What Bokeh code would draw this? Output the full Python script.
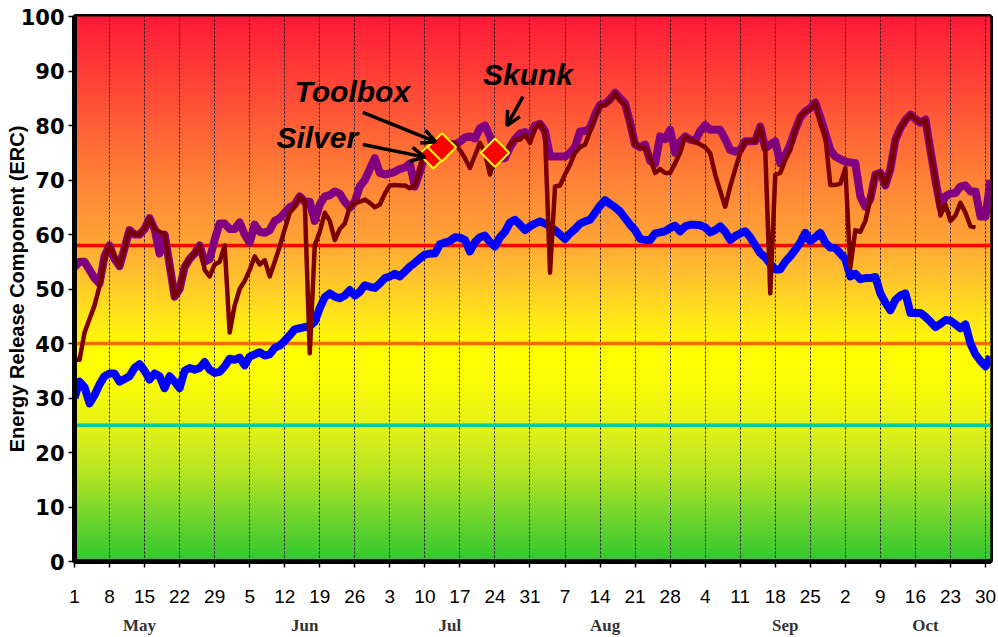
import math
from bokeh.plotting import figure
from bokeh.models import FixedTicker, LinearAxis, Span, Label, Arrow, OpenHead, Range1d
from bokeh.embed import file_html
from bokeh.resources import INLINE

# ---------------- data ----------------
tick_days = list(range(0, 183, 7))
tick_labels = ["1", "8", "15", "22", "29", "5", "12", "19", "26", "3", "10", "17", "24", "31",
               "7", "14", "21", "28", "4", "11", "18", "25", "2", "9", "16", "23", "30"]
months = ["May", "Jun", "Jul", "Aug", "Sep", "Oct"]
month_pos = [13, 46, 75, 106, 142, 170]

# purple series (May 1 .. Oct 31)
purple = [
    54, 55, 55, 53.5, 52, 51, 56, 58, 55.5, 54.2,
    57.5, 60.8, 60, 60, 61, 63, 61, 56.5, 60, 54.5,
    48.6, 50, 54, 55.5, 56.5, 58, 55, 55.5, 59, 62,
    62, 61, 61, 62.2, 60, 58.5, 61.8, 60.5, 60.3, 60.8,
    62.5, 63, 64, 65, 65.5, 67, 66, 66, 62.5, 65.5,
    67, 67.2, 67.9, 67.5, 66, 64.9, 66, 68.8, 70, 72,
    74, 71.3, 71, 71.2, 71.5, 72, 72.3, 73, 68.8, 71.5,
    74.5, 75.5, 76, 76, 76.5, 76.5, 76.5, 77, 77.8, 78,
    77.6, 79.5, 80, 78, 75, 74, 74, 76, 77.5, 78.5,
    78.8, 78, 80, 80.3, 79, 74.3, 74.3, 74.3, 74.3, 75,
    76, 78.9, 79, 79.5, 82, 83.8, 84, 84.8, 86, 85,
    84, 80.5, 76.5, 76, 76.5, 73.5, 73, 78, 77.5, 79.2,
    75, 77, 78, 77.4, 77.2, 79, 80.1, 79.2, 79.2, 79.2,
    77.5, 75.5, 75.2, 75.5, 77.1, 77.1, 77.1, 79.8, 75.8, 76.5,
    77.1, 73.1, 74.5, 76.5, 79.2, 81.5, 82.6, 83.2, 84.2, 81.5,
    78.6, 75.5, 74.3, 73.8, 73.4, 73.2, 73.1, 67, 65.1, 66.5,
    71, 71.3, 69, 72, 77.4, 79.5, 81, 82, 81.2, 80.5,
    81.1, 75.5, 70, 65, 67, 67.5, 67.6, 68.8, 69, 67.9,
    67.9, 63.3, 63.3, 70,
]

# maroon series (May 1 .. Oct 28)
maroon = [
    37, 37, 42, 44.5, 47, 50.5, 55.5, 58, 56, 54.2,
    57.5, 60.8, 60, 60, 61, 63, 61, 60.5, 60, 54.5,
    48.6, 50, 54, 55.5, 56.5, 58, 53.5, 52.3, 54.5, 55,
    58, 42, 47, 50, 51.5, 53.5, 56, 54.5, 55.3, 52.3,
    55, 57.8, 61, 64, 65.1, 67, 66, 38.2, 58, 60.5,
    64, 62.5, 59, 61, 62, 65.1, 65.8, 66, 66.4, 65.8,
    65, 65.5, 67.5, 69, 69.1, 69, 69, 68.5, 69, 72,
    75.5, 76.5, 75.5, 76.5, 77, 77, 76.8, 75.5, 74, 72.2,
    74.5, 76.8, 75, 71, 74.3, 74.3, 74.5, 76.5, 77.4, 77.4,
    78.3, 76.8, 79.5, 80.5, 78.5, 53, 68.8, 69, 71, 72.8,
    75, 76, 76.5, 78.9, 81.5, 83.5, 83.8, 84.5, 86, 84.5,
    83.8, 80, 76.5, 76, 75.8, 74, 71.3, 72, 71.3, 71.3,
    73.1, 75, 78, 77.4, 77, 76.5, 76, 74.9, 71, 68,
    65.1, 68.8, 72, 75, 77, 77.1, 77.1, 79.8, 75.5, 49.2,
    71, 71.3, 73.7, 75.5, 79, 81.7, 82.6, 82.9, 84.2, 80.5,
    78, 69.1, 69.1, 69.3, 72.2, 54, 60.8, 60.5, 62.5, 66.4,
    71, 71.3, 69, 72, 77.4, 79.5, 81, 82, 81.2, 80.5,
    81.1, 75, 70, 63.5, 65.5, 62.5, 63.5, 65.8, 64, 61.5,
    61.3,
]

# blue series (May 1 .. Oct 31)
blue = [
    30, 33, 32, 29, 30.5, 32.5, 34, 34.5, 34.5, 33,
    33.5, 34, 35.5, 36.2, 35, 33.4, 34.5, 34, 31.8, 34,
    33, 31.8, 35, 35.5, 35.2, 35.5, 36.6, 35.2, 34.6, 34.8,
    35.8, 37.2, 37, 37.4, 36, 37.6, 38, 38.4, 37.8, 38,
    39.2, 39.6, 40.5, 41.5, 42.6, 42.8, 43, 43.2, 44, 46.5,
    48.5, 49.2, 48.6, 48.3, 48.8, 49.8, 48.8, 49.5, 50.7, 50.4,
    50.2, 51, 52, 52.3, 52.8, 52.3, 53.2, 54.1, 54.8, 55.6,
    56.3, 56.5, 56.5, 58.2, 58.5, 58.8, 59.5, 59.4, 59, 56.9,
    58.6, 59.5, 59.8, 58.6, 57.8, 59.5, 60.5, 62.2, 62.7, 61.8,
    60.8, 61.5, 62, 62.4, 62, 61.5, 60.8, 60, 59.2, 60.2,
    61, 62, 62.4, 62.7, 64, 65.3, 66.3, 65.6, 65, 64.2,
    63, 61.8, 60.8, 59.2, 59, 59, 60.2, 60.4, 60.6, 61.2,
    61.6, 60.6, 61.5, 61.8, 61.8, 61.7, 61.3, 60.4, 60.8, 61.5,
    60.5, 59, 59.7, 60.2, 60.6, 59.5, 58, 56.6, 55.8, 54.6,
    53.6, 53.6, 55, 56, 57.2, 58.5, 60.3, 58.8, 59.5, 60.3,
    58.5, 57.6, 57.5, 56.5, 55.5, 52.3, 52.8, 51.8, 52, 52,
    52.2, 49.2, 47.5, 46.1, 48, 48.8, 49.2, 45.6, 45.6, 45.6,
    44.9, 44, 43, 43.6, 44.3, 44.2, 43.5, 42.8, 43.5, 40,
    38, 36.8, 35.8, 37.6,
]

thresholds = [58, 40, 25]
threshold_colors = ["#FF0000", "#FF6600", "#00CC99"]

fire_names = ["Silver", "Toolbox", "Skunk"]
fire_day = [71.7, 73.4, 84.0]
fire_erc = [74.7, 76.0, 75.0]
# label centre (day, erc) and arrow start/end for each fire
label_pos = [(48.5, 77.8), (55.5, 86.2), (90.6, 89.3)]
arrow_start = [(57.6, 76.5), (57.6, 82.4), (89.6, 85.3)]
arrow_end = [(70.0, 74.2), (72.2, 77.0), (86.4, 80.0)]

# ---------------- figure ----------------
n_days = len(blue) - 1
p = figure(width=998, height=637, output_backend="svg", toolbar_location=None,
           x_range=Range1d(0, n_days), y_range=Range1d(0, 100),
           min_border_left=74, min_border_right=8, min_border_top=16, min_border_bottom=76)
p.border_fill_color = "white"
p.outline_line_color = "black"
p.outline_line_width = 5

# background gradient (green -> yellow -> orange -> red)
stops = [(0, (48, 200, 48)), (8, (110, 212, 45)), (16, (180, 228, 35)), (25, (228, 242, 25)),
         (33, (250, 252, 5)), (38, (255, 255, 0)), (45, (255, 228, 25)), (52, (255, 195, 45)),
         (60, (255, 160, 55)), (70, (255, 130, 55)), (80, (255, 95, 55)), (90, (255, 60, 55)),
         (100, (255, 25, 55))]


def grad(v):
    for (a, ca), (b, cb) in zip(stops[:-1], stops[1:]):
        if a <= v <= b:
            t = (v - a) / (b - a)
            c = [round(ca[i] + t * (cb[i] - ca[i])) for i in range(3)]
            return "#%02x%02x%02x" % tuple(c)
    return "#%02x%02x%02x" % stops[-1][1]


step = 0.5
lows = [i * step for i in range(int(100 / step))]
p.quad(left=0, right=n_days, bottom=lows, top=[v + step * 1.3 for v in lows],
       fill_color=[grad(v + step / 2) for v in lows], line_color=None, level="image")

# threshold lines
for v, c in zip(thresholds, threshold_colors):
    p.add_layout(Span(location=v, dimension="width", line_color=c, line_width=3.5, level="underlay"))

# grid
p.xgrid.ticker = FixedTicker(ticks=tick_days)
p.xgrid.grid_line_color = "black"
p.xgrid.grid_line_dash = "2 2"
p.xgrid.grid_line_width = 1
p.ygrid.grid_line_color = None

# series
p.line(list(range(len(blue))), blue, line_color="#0000FF", line_width=8, line_join="round")
p.line(list(range(len(purple))), purple, line_color="#800080", line_width=8, line_join="round")
p.line(list(range(len(maroon))), maroon, line_color="#7A0000", line_width=4.5, line_join="round")

# fire markers
p.scatter(fire_day, fire_erc, marker="square", size=20, angle=math.pi / 4,
          fill_color="#FF0000", line_color="#FFFF00", line_width=2)

for name, (lx, ly), (sx, sy), (ex, ey) in zip(fire_names, label_pos, arrow_start, arrow_end):
    p.add_layout(Label(x=lx, y=ly, text=name, text_font="Liberation Sans",
                       text_font_style="bold italic", text_font_size="30px",
                       text_align="center", text_baseline="middle", text_color="black"))
    p.add_layout(Arrow(end=OpenHead(size=14, line_width=3.5, line_color="black"),
                       x_start=sx, y_start=sy, x_end=ex, y_end=ey,
                       line_width=3.5, line_color="black"))

# axes
xa = p.xaxis[0]
xa.ticker = FixedTicker(ticks=tick_days)
xa.major_label_overrides = {d: t for d, t in zip(tick_days, tick_labels)}
xa.axis_line_width = 5
xa.axis_line_color = "black"
xa.major_tick_out = 6
xa.major_tick_in = 0
xa.major_tick_line_width = 1.5
xa.minor_tick_line_color = None
xa.major_label_standoff = 22
xa.major_label_text_font = "Liberation Sans"
xa.major_label_text_font_size = "19px"
xa.major_label_text_color = "black"

ya = p.yaxis[0]
ya.ticker = FixedTicker(ticks=list(range(0, 101, 10)))
ya.axis_line_width = 5
ya.axis_line_color = "black"
ya.major_tick_out = 6
ya.major_tick_in = 0
ya.major_tick_line_width = 1.5
ya.minor_tick_line_color = None
ya.major_label_standoff = 4
ya.major_label_text_font = "DejaVu Sans"
ya.major_label_text_font_style = "bold"
ya.major_label_text_font_size = "21px"
ya.major_label_text_color = "black"
ya.axis_label = "Energy Release Component (ERC)"
ya.axis_label_text_font = "Liberation Sans"
ya.axis_label_text_font_style = "bold"
ya.axis_label_text_font_size = "20px"
ya.axis_label_text_color = "black"
ya.axis_label_standoff = -10

month_axis = LinearAxis(ticker=FixedTicker(ticks=month_pos),
                        major_label_overrides={d: m for d, m in zip(month_pos, months)})
month_axis.axis_line_color = None
month_axis.major_tick_line_color = None
month_axis.minor_tick_line_color = None
month_axis.major_label_standoff = 4
month_axis.major_label_text_font = "Liberation Serif"
month_axis.major_label_text_font_style = "bold"
month_axis.major_label_text_font_size = "17px"
month_axis.major_label_text_color = "#333333"
p.add_layout(month_axis, "below")

open("out.html", "w").write(file_html(p, INLINE, "ERC"))
